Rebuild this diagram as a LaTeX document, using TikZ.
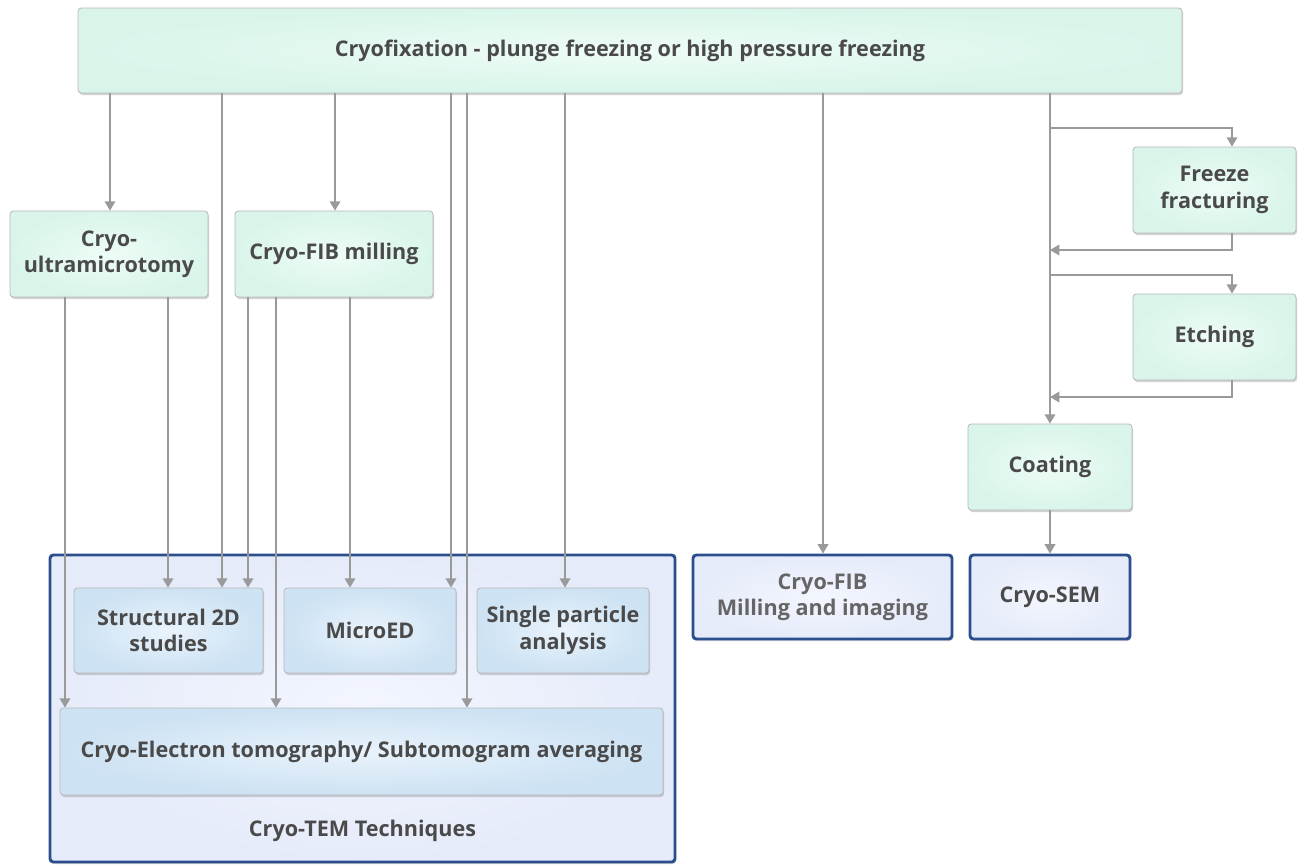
\documentclass[tikz,border=0pt]{standalone}
\usepackage{fontspec}
\setmainfont{Open Sans}
\usetikzlibrary{shadows,arrows.meta}
\definecolor{txt}{HTML}{4A4A4A}
\definecolor{lin}{HTML}{9A9A9A}
\definecolor{mintO}{HTML}{D9F5EA}
\definecolor{mintI}{HTML}{EEFCF6}
\definecolor{bluO}{HTML}{CDE2F3}
\definecolor{bluI}{HTML}{E9F3FC}
\definecolor{outO}{HTML}{E6EBFA}
\definecolor{outI}{HTML}{F3F6FE}
\definecolor{navy}{HTML}{2B4E8C}
\begin{document}
\begin{tikzpicture}[x=0.75pt,y=-0.75pt,
  wh/.style 2 args={minimum width=#1*0.75pt, minimum height=#2*0.75pt},
  base/.style={inner sep=0pt, align=center, text=txt, font=\fontsize{16.2}{19.8}\selectfont\bfseries, rounded corners=2.5pt},
  green/.style={base, draw=lin!70, line width=0.6pt, inner color=mintI, outer color=mintO,
     drop shadow={shadow xshift=0.8pt, shadow yshift=-1.5pt, opacity=0.35, fill=gray}},
  blue/.style={base, draw=lin!70, line width=0.6pt, inner color=bluI, outer color=bluO,
     drop shadow={shadow xshift=0.8pt, shadow yshift=-1.5pt, opacity=0.35, fill=gray}},
  outer/.style={base, draw=navy, line width=2.2pt, inner color=outI, outer color=outO,
     drop shadow={shadow xshift=0.8pt, shadow yshift=-1.5pt, opacity=0.3, fill=gray}},
  arr/.style={draw=lin, line width=1.1pt, -{Triangle[width=8pt,length=7pt]}},
  ln/.style={draw=lin, line width=1.1pt}]
\useasboundingbox (0,0) rectangle (1303,865);
\fill[white] (0,0) rectangle (1303,865);

% outer containers
\node[outer, wh={625}{307}] (tem) at (362.5,708.5) {};
\node[base, anchor=center] (temlbl) at (362.5,831) {Cryo-TEM Techniques};
\node[outer, wh={259}{84}] (fibimg) at (822.5,597) {\color{txt!85}Cryo-FIB\\\color{txt!85}Milling and imaging};
\node[outer, wh={160}{84}] (sem) at (1050,597) {Cryo-SEM};

% green boxes
\node[green, wh={1104}{85}] (top) at (630,50.5) {Cryofixation - plunge freezing or high pressure freezing};
\node[green, wh={198}{86}] (ucut) at (109,254) {Cryo-\\ultramicrotomy};
\node[green, wh={198}{86}] (fibm) at (334,254) {Cryo-FIB milling};
\node[green, wh={163}{86}] (freeze) at (1214.5,190) {Freeze\\fracturing};
\node[green, wh={163}{86}] (etch) at (1214.5,337) {Etching};
\node[green, wh={164}{86}] (coat) at (1050,467) {Coating};

% blue inner boxes
\node[blue, wh={189}{85}] (s2d) at (168.5,630.5) {Structural 2D\\studies};
\node[blue, wh={172}{85}] (med) at (370,630.5) {MicroED};
\node[blue, wh={172}{85}] (spa) at (563,630.5) {Single particle\\analysis};
\node[blue, wh={603}{87}] (cet) at (361.5,751.5) {Cryo-Electron tomography/ Subtomogram averaging};

% x positions of connectors
\coordinate (xa) at (110,0);
\coordinate (xb) at (222,0);
\coordinate (xc) at (335,0);
\coordinate (xd) at (451,0);
\coordinate (xe) at (467,0);
\coordinate (xf) at (565,0);
\coordinate (xg) at (823,0);
\coordinate (xh) at (1050,0);
\coordinate (xu1) at (65,0);
\coordinate (xu2) at (168,0);
\coordinate (xm1) at (248,0);
\coordinate (xm2) at (276,0);
\coordinate (xm3) at (350,0);
\coordinate (xr) at (1232,0);
\coordinate (y1) at (0,128);
\coordinate (y2) at (0,250);
\coordinate (y3) at (0,275);
\coordinate (y4) at (0,397);

% from cryofixation
\draw[arr] (top.south -| xa) -- (ucut.north -| xa);
\draw[arr] (top.south -| xb) -- (s2d.north -| xb);
\draw[arr] (top.south -| xc) -- (fibm.north -| xc);
\draw[arr] (top.south -| xd) -- (med.north -| xd);
\draw[arr] (top.south -| xe) -- (cet.north -| xe);
\draw[arr] (top.south -| xf) -- (spa.north -| xf);
\draw[arr] (top.south -| xg) -- (fibimg.north -| xg);
\draw[arr] (top.south -| xh) -- (coat.north);

% from ultramicrotomy
\draw[arr] (ucut.south -| xu1) -- (cet.north -| xu1);
\draw[arr] (ucut.south -| xu2) -- (s2d.north -| xu2);
% from FIB milling
\draw[arr] (fibm.south -| xm1) -- (s2d.north -| xm1);
\draw[arr] (fibm.south -| xm2) -- (cet.north -| xm2);
\draw[arr] (fibm.south -| xm3) -- (med.north -| xm3);

% freeze fracture / etching loop
\draw[arr] (xh |- y1) -| (freeze.north -| xr);
\draw[arr] (freeze.south -| xr) |- (xh |- y2);
\draw[arr] (xh |- y3) -| (etch.north -| xr);
\draw[arr] (etch.south -| xr) |- (xh |- y4);
\draw[arr] (coat.south) -- (sem.north);
\end{tikzpicture}
\end{document}
